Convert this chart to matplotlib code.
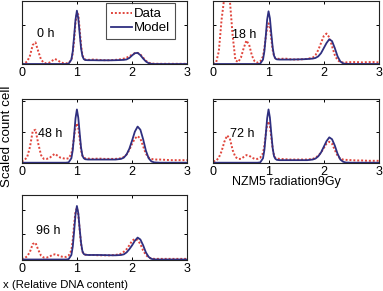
import matplotlib
matplotlib.use("Agg")
import matplotlib.pyplot as plt

plt.rcParams['font.family'] = ['Liberation Sans', 'DejaVu Sans']

# shared DNA-content grid
x = [0.0, 0.05, 0.1, 0.15, 0.2, 0.25, 0.3, 0.35, 0.4, 0.45,
     0.5, 0.55, 0.6, 0.65, 0.7, 0.75, 0.8, 0.85, 0.9, 0.925,
     0.95, 0.975, 1.0, 1.025, 1.05, 1.075, 1.1, 1.125, 1.15, 1.2,
     1.3, 1.4, 1.5, 1.6, 1.7, 1.8, 1.85, 1.9, 1.95, 2.0,
     2.05, 2.1, 2.15, 2.2, 2.25, 2.3, 2.35, 2.4, 2.5, 2.6,
     2.7, 2.8, 2.9, 3.0]

labels = ["0 h", "18 h", "48 h", "72 h", "96 h"]

data_0h = [0.0, 0.01, 0.04, 0.13, 0.30, 0.34, 0.20, 0.07, 0.02, 0.01,
           0.02, 0.05, 0.08, 0.06, 0.03, 0.015, 0.01, 0.02, 0.06, 0.17,
           0.38, 0.65, 0.80, 0.78, 0.55, 0.30, 0.14, 0.09, 0.07, 0.065,
           0.07, 0.065, 0.06, 0.06, 0.065, 0.075, 0.085, 0.10, 0.12, 0.15,
           0.17, 0.175, 0.15, 0.10, 0.05, 0.02, 0.01, 0.005, 0.003, 0.003,
           0.003, 0.003, 0.003, 0.003]
model_0h = [0, 0, 0, 0, 0, 0, 0, 0, 0, 0,
            0, 0, 0, 0, 0, 0, 0, 0.005, 0.07, 0.20,
            0.44, 0.70, 0.84, 0.72, 0.48, 0.25, 0.125, 0.077, 0.063, 0.06,
            0.06, 0.058, 0.058, 0.058, 0.06, 0.063, 0.065, 0.072, 0.095, 0.135,
            0.17, 0.175, 0.14, 0.085, 0.04, 0.012, 0.003, 0, 0, 0,
            0, 0, 0, 0]

data_18h = [0.0, 0.02, 0.20, 0.70, 1.05, 1.20, 1.0, 0.45, 0.06, 0.03,
            0.10, 0.25, 0.37, 0.30, 0.13, 0.04, 0.02, 0.04, 0.12, 0.25,
            0.42, 0.57, 0.64, 0.58, 0.40, 0.22, 0.12, 0.09, 0.085, 0.08,
            0.085, 0.075, 0.07, 0.075, 0.08, 0.10, 0.14, 0.22, 0.33, 0.44,
            0.48, 0.42, 0.28, 0.14, 0.06, 0.03, 0.025, 0.025, 0.03, 0.03,
            0.025, 0.03, 0.03, 0.025]
model_18h = [0, 0, 0, 0, 0, 0, 0, 0, 0, 0,
             0, 0, 0, 0, 0, 0, 0, 0.005, 0.07, 0.20,
             0.44, 0.70, 0.83, 0.72, 0.48, 0.26, 0.13, 0.085, 0.073, 0.07,
             0.07, 0.07, 0.072, 0.074, 0.078, 0.085, 0.095, 0.12, 0.17, 0.25,
             0.33, 0.39, 0.36, 0.25, 0.12, 0.04, 0.01, 0.002, 0, 0,
             0, 0, 0, 0]

data_48h = [0.02, 0.04, 0.09, 0.25, 0.50, 0.52, 0.30, 0.12, 0.06, 0.06,
            0.07, 0.11, 0.14, 0.11, 0.08, 0.07, 0.06, 0.07, 0.14, 0.25,
            0.42, 0.56, 0.62, 0.55, 0.38, 0.20, 0.11, 0.08, 0.07, 0.065,
            0.06, 0.065, 0.06, 0.06, 0.06, 0.07, 0.09, 0.13, 0.20, 0.30,
            0.38, 0.42, 0.38, 0.26, 0.14, 0.08, 0.06, 0.05, 0.05, 0.045,
            0.04, 0.04, 0.04, 0.04]
model_48h = [0, 0, 0, 0, 0, 0, 0, 0, 0, 0,
             0, 0, 0, 0, 0, 0, 0, 0.005, 0.07, 0.20,
             0.44, 0.70, 0.84, 0.71, 0.47, 0.24, 0.11, 0.07, 0.055, 0.05,
             0.05, 0.05, 0.05, 0.05, 0.05, 0.06, 0.08, 0.13, 0.22, 0.35,
             0.49, 0.57, 0.52, 0.37, 0.19, 0.07, 0.02, 0.005, 0, 0,
             0, 0, 0, 0]

data_72h = [0.02, 0.03, 0.08, 0.18, 0.33, 0.43, 0.38, 0.20, 0.09, 0.06,
            0.06, 0.09, 0.12, 0.11, 0.08, 0.06, 0.06, 0.08, 0.15, 0.27,
            0.45, 0.60, 0.65, 0.58, 0.40, 0.22, 0.11, 0.075, 0.065, 0.06,
            0.055, 0.05, 0.05, 0.05, 0.05, 0.06, 0.08, 0.11, 0.16, 0.23,
            0.30, 0.33, 0.30, 0.20, 0.11, 0.06, 0.05, 0.045, 0.04, 0.035,
            0.035, 0.03, 0.03, 0.03]
model_72h = [0, 0, 0, 0, 0, 0, 0, 0, 0, 0,
             0, 0, 0, 0, 0, 0, 0, 0.005, 0.07, 0.20,
             0.44, 0.70, 0.84, 0.71, 0.46, 0.23, 0.10, 0.06, 0.045, 0.04,
             0.04, 0.04, 0.04, 0.04, 0.04, 0.05, 0.065, 0.10, 0.16, 0.25,
             0.34, 0.40, 0.37, 0.27, 0.14, 0.05, 0.015, 0.003, 0, 0,
             0, 0, 0, 0]

data_96h = [0.01, 0.02, 0.05, 0.12, 0.24, 0.26, 0.15, 0.06, 0.03, 0.03,
            0.04, 0.07, 0.08, 0.07, 0.05, 0.04, 0.04, 0.06, 0.14, 0.30,
            0.55, 0.74, 0.80, 0.70, 0.46, 0.24, 0.12, 0.085, 0.075, 0.07,
            0.07, 0.065, 0.065, 0.065, 0.07, 0.09, 0.12, 0.16, 0.22, 0.29,
            0.32, 0.30, 0.24, 0.14, 0.07, 0.03, 0.015, 0.01, 0.01, 0.01,
            0.01, 0.01, 0.01, 0.01]
model_96h = [0, 0, 0, 0, 0, 0, 0, 0, 0, 0,
             0, 0, 0, 0, 0, 0, 0, 0.005, 0.07, 0.20,
             0.44, 0.70, 0.83, 0.72, 0.48, 0.26, 0.13, 0.085, 0.075, 0.07,
             0.07, 0.07, 0.068, 0.066, 0.065, 0.07, 0.08, 0.11, 0.16, 0.22,
             0.29, 0.34, 0.31, 0.22, 0.11, 0.04, 0.01, 0.002, 0, 0,
             0, 0, 0, 0]

xticks = [0, 1, 2, 3]
# y tick positions (fraction of panel height)
yticks_top = [0.61]
yticks_mid = [0.485, 0.97]
yticks_bot = [0.39, 0.77]

W, H = 383, 291
fig = plt.figure(figsize=(W / 100, H / 100), dpi=100)

def px_axes(left, top, right, bottom):
    return fig.add_axes([left / W, 1 - bottom / H, (right - left) / W, (bottom - top) / H])

panels = [
    (px_axes(21.7, 0.5, 187.3, 64), data_0h, model_0h, labels[0], yticks_top, (0.092, 0.47)),
    (px_axes(213.3, 0.5, 379, 64), data_18h, model_18h, labels[1], yticks_top, (0.113, 0.46)),
    (px_axes(21.7, 99.3, 187.3, 162.7), data_48h, model_48h, labels[2], yticks_mid, (0.098, 0.445)),
    (px_axes(213.3, 99.3, 379, 162.7), data_72h, model_72h, labels[3], yticks_mid, (0.10, 0.46)),
    (px_axes(21.7, 195, 187.3, 259.5), data_96h, model_96h, labels[4], yticks_bot, (0.085, 0.44)),
]

red = '#e0453c'
navy = '#2f2f80'

for ax, d, m, lab, yt, tpos in panels:
    ld, = ax.plot(x, d, linestyle=(0, (1, 1)), color=red, linewidth=1.4, label='Data')
    lm, = ax.plot(x, m, linestyle='-', color=navy, linewidth=1.3, label='Model')
    ax.set_xlim(0, 3)
    ax.set_ylim(0, 1)
    ax.set_xticks(xticks)
    ax.set_xticklabels([str(t) for t in xticks])
    ax.set_yticks(yt)
    ax.set_yticklabels([])
    ax.tick_params(direction='in', length=2.0, width=0.7, labelsize=9, pad=2.2,
                   top=True, right=True)
    for s in ax.spines.values():
        s.set_linewidth(0.8)
        s.set_color('#222222')
    ax.text(tpos[0], tpos[1], lab, transform=ax.transAxes, fontsize=9,
            ha='left', va='center')
    if lab == "0 h":
        leg = ax.legend(handles=[ld, lm], loc='upper right', fontsize=9.5,
                        bbox_to_anchor=(0.926, 0.955), borderaxespad=0.0,
                        handlelength=1.6, handletextpad=0.2, labelspacing=0.15,
                        borderpad=0.35, fancybox=False, frameon=True)
        leg.get_frame().set_edgecolor('#222222')
        leg.get_frame().set_linewidth(0.8)

fig.text(7 / W, 1 - 136 / H, 'Scaled count cell', rotation=90, fontsize=9.6,
         ha='center', va='center')
fig.text(232 / W, 1 - 182.5 / H, 'NZM5 radiation9Gy', fontsize=9,
         ha='left', va='center')
fig.text(3 / W, 1 - 285 / H, 'x (Relative DNA content)', fontsize=8.2,
         ha='left', va='center')

fig.savefig('out.png', dpi=100)
